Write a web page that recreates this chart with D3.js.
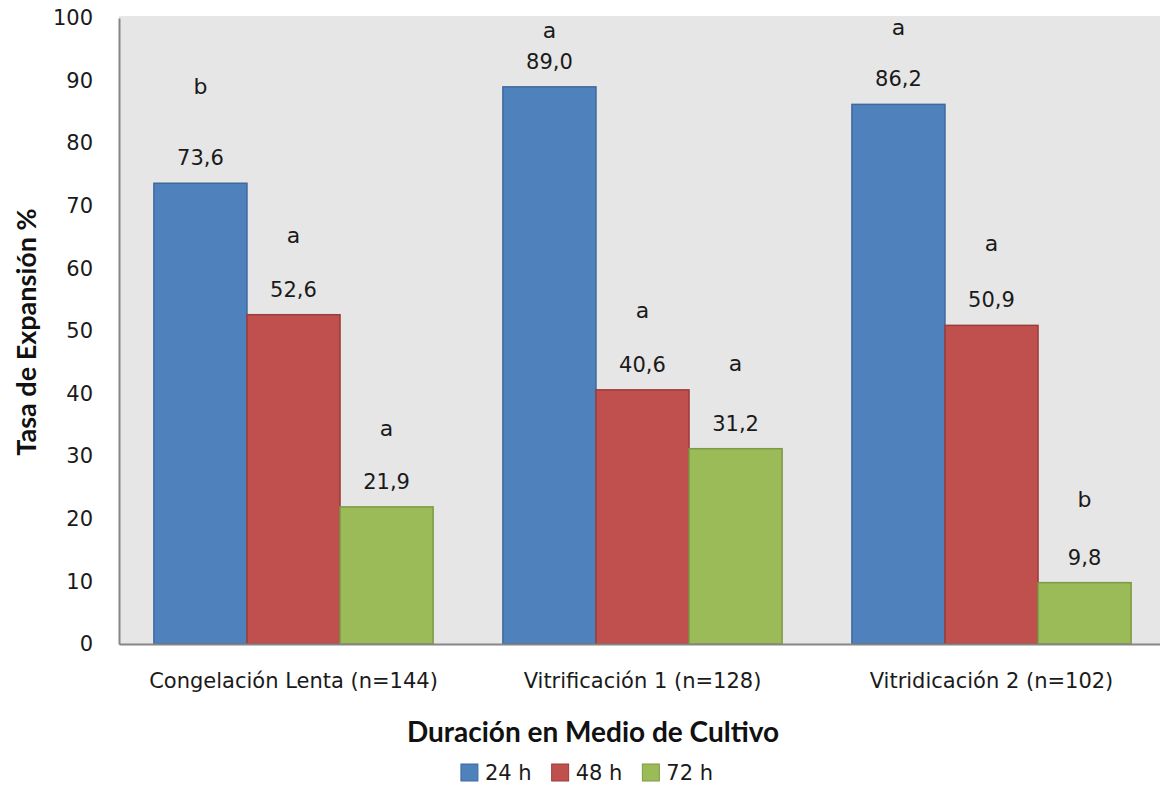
<!DOCTYPE html>
<html>
<head>
<meta charset="utf-8">
<script src="https://cdn.jsdelivr.net/npm/d3@7"></script>
<style>
  body { margin: 0; background: #fff; }
  svg { display: block; }
</style>
</head>
<body>
<div id="chart"></div>
<script>
const categories = ["Congelación Lenta (n=144)", "Vitrificación 1 (n=128)", "Vitridicación 2 (n=102)"];
const seriesNames = ["24 h", "48 h", "72 h"];
const values24 = [73.6, 89.0, 86.2];
const values48 = [52.6, 40.6, 50.9];
const values72 = [21.9, 31.2, 9.8];
// significance letters and the height (in axis units) where each one sits
const letters24 = ["b", "a", "a"];
const letters48 = ["a", "a", "a"];
const letters72 = ["a", "a", "b"];
const letterY24 = [87.9, 96.8, 97.3];
const letterY48 = [64.0, 52.1, 62.8];
const letterY72 = [33.3, 43.6, 21.9];
const yTicks = [0, 10, 20, 30, 40, 50, 60, 70, 80, 90, 100];
const colors = ["#4f81bd", "#c0504d", "#9bbb59"];
const strokes = ["#3d6a9e", "#9a3d3a", "#7c9a44"];

const seriesValues = [values24, values48, values72];
const seriesLetters = [letters24, letters48, letters72];
const seriesLetterY = [letterY24, letterY48, letterY72];

const W = 1160, H = 785;
const plot = { left: 119, right: 1166, top: 18, bottom: 644 };

const svg = d3.select("#chart").append("svg")
    .attr("width", W)
    .attr("height", H);

const x0 = d3.scaleBand()
    .domain(categories)
    .range([plot.left, plot.right])
    .paddingInner(0.2)
    .paddingOuter(0.1);

const x1 = d3.scaleBand()
    .domain(seriesNames)
    .range([0, x0.bandwidth()]);

const y = d3.scaleLinear().domain([0, 100]).range([plot.bottom, plot.top]);

svg.append("rect")
    .attr("x", plot.left)
    .attr("y", plot.top - 2)
    .attr("width", plot.right - plot.left)
    .attr("height", plot.bottom - plot.top + 2)
    .attr("fill", "#e6e6e6");

const data = [];
categories.forEach((c, ci) => {
    seriesNames.forEach((s, si) => {
        data.push({
            cat: c, series: s, si: si,
            value: seriesValues[si][ci],
            letter: seriesLetters[si][ci],
            letterY: seriesLetterY[si][ci]
        });
    });
});

const bars = svg.append("g");
bars.selectAll("rect")
    .data(data)
    .join("rect")
    .attr("x", d => x0(d.cat) + x1(d.series))
    .attr("y", d => y(d.value))
    .attr("width", x1.bandwidth())
    .attr("height", d => y(0) - y(d.value))
    .attr("fill", d => colors[d.si])
    .attr("stroke", d => strokes[d.si])
    .attr("stroke-width", 1.5);

const fmt = v => v.toFixed(1).replace(".", ",");

svg.append("g").selectAll("text")
    .data(data)
    .join("text")
    .attr("x", d => x0(d.cat) + x1(d.series) + x1.bandwidth() / 2)
    .attr("y", d => y(d.value) - 18)
    .attr("text-anchor", "middle")
    .attr("font-family", "DejaVu Sans")
    .attr("font-size", 21)
    .attr("fill", "#1a1a1a")
    .text(d => fmt(d.value));

svg.append("g").selectAll("text")
    .data(data)
    .join("text")
    .attr("x", d => x0(d.cat) + x1(d.series) + x1.bandwidth() / 2)
    .attr("y", d => y(d.letterY))
    .attr("text-anchor", "middle")
    .attr("font-family", "DejaVu Sans")
    .attr("font-size", 22)
    .attr("fill", "#1a1a1a")
    .text(d => d.letter);

// axes
const yAxis = svg.append("g")
    .attr("transform", `translate(${plot.left},0)`)
    .call(d3.axisLeft(y).tickValues(yTicks).tickSize(0).tickPadding(26));
yAxis.select(".domain").attr("stroke", "#868686").attr("stroke-width", 2);
yAxis.selectAll("text")
    .attr("font-family", "DejaVu Sans")
    .attr("font-size", 21)
    .attr("fill", "#1a1a1a");

const xAxis = svg.append("g")
    .attr("transform", `translate(0,${plot.bottom})`)
    .call(d3.axisBottom(x0).tickSize(0).tickPadding(29));
xAxis.select(".domain").attr("stroke", "#868686").attr("stroke-width", 2);
xAxis.selectAll("text")
    .attr("font-family", "DejaVu Sans")
    .attr("font-size", 21)
    .attr("fill", "#1a1a1a");

// titles
svg.append("text")
    .attr("x", 593)
    .attr("y", 742)
    .attr("text-anchor", "middle")
    .attr("font-family", "Lato")
    .attr("font-weight", "bold")
    .attr("font-size", 28)
    .attr("fill", "#111")
    .text("Duración en Medio de Cultivo");

svg.append("text")
    .attr("transform", "translate(36,332) rotate(-90)")
    .attr("text-anchor", "middle")
    .attr("font-family", "Lato")
    .attr("font-weight", "bold")
    .attr("font-size", 27)
    .attr("fill", "#111")
    .text("Tasa de Expansión %");

// legend
const legend = svg.append("g");
const items = legend.selectAll("g")
    .data(seriesNames)
    .join("g");
items.append("rect")
    .attr("width", 17)
    .attr("height", 17)
    .attr("y", -8)
    .attr("fill", (d, i) => colors[i])
    .attr("stroke", (d, i) => strokes[i]);
items.append("text")
    .attr("x", 24)
    .attr("y", 8)
    .attr("font-family", "DejaVu Sans")
    .attr("font-size", 21)
    .attr("fill", "#1a1a1a")
    .text(d => d);

const widths = [];
items.each(function () {
    widths.push(this.getBBox().width);
});
const gap = 20;
const total = d3.sum(widths) + gap * (widths.length - 1);
let lx = 587 - total / 2;
items.attr("transform", (d, i) => {
    const t = `translate(${lx},772)`;
    lx += widths[i] + gap;
    return t;
});
</script>
</body>
</html>
